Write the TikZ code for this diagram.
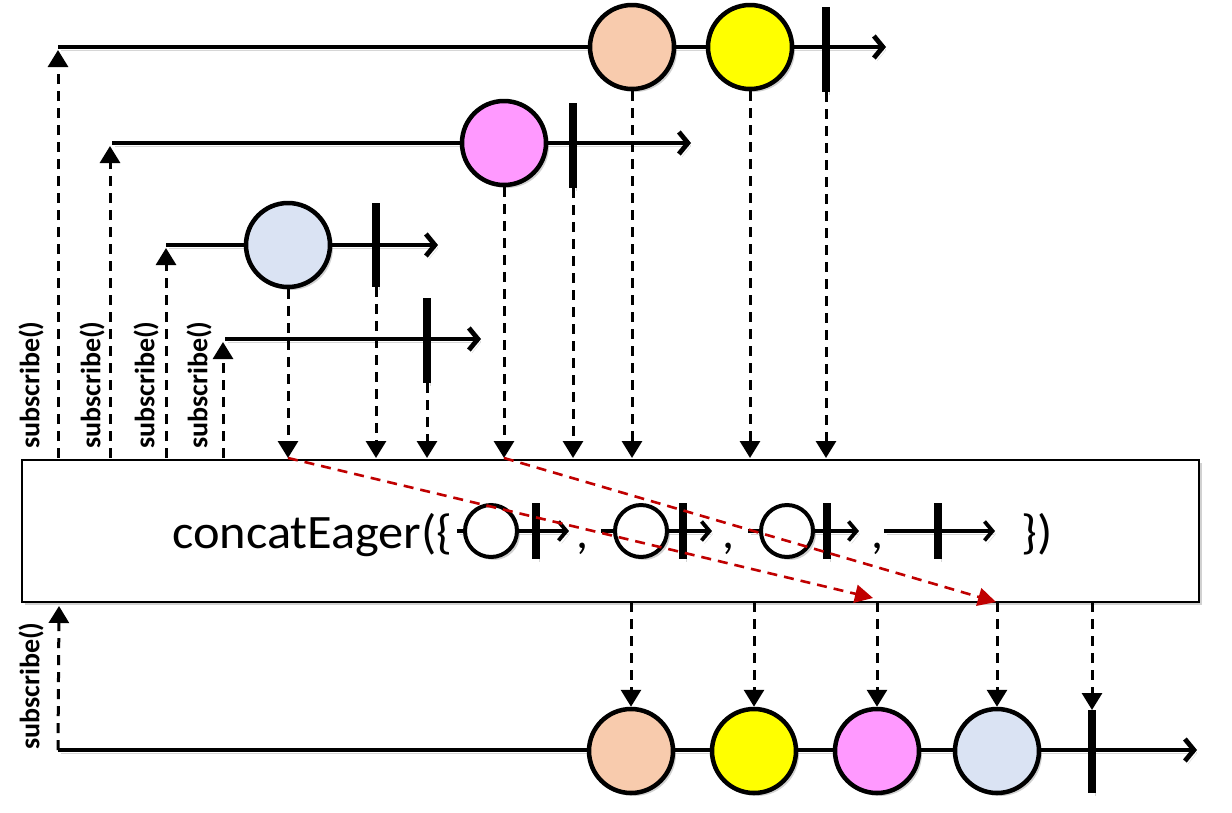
\documentclass[tikz,border=0pt]{standalone}
\usepackage{fontspec}
\setmainfont{Carlito}
\usetikzlibrary{arrows.meta,shadows}
\definecolor{peach}{HTML}{F8CBAD}
\definecolor{yel}{HTML}{FFFF00}
\definecolor{pinkm}{HTML}{FF99FF}
\definecolor{bluem}{HTML}{DAE3F3}
\definecolor{redd}{HTML}{C00000}
\begin{document}
\begin{tikzpicture}[x=1pt,y=-1pt,
  shd/.style={preaction={draw=black,opacity=0.16,transform canvas={shift={(3pt,-3pt)}}}},
  tl/.style={shd,line width=4.8pt,-{Straight Barb[length=9pt,width=22pt]}},
  mtl/.style={shd,line width=3.8pt,-{Straight Barb[length=8pt,width=19pt]}},
  marble/.style={circle,draw,line width=4.5pt,minimum size=84pt,inner sep=0pt,
    drop shadow={opacity=0.18,shadow xshift=3pt,shadow yshift=-3pt,fill=black}},
  mini/.style={circle,draw,fill=white,line width=4pt,minimum size=52pt,inner sep=0pt,
    drop shadow={opacity=0.18,shadow xshift=3pt,shadow yshift=-3pt,fill=black}},
  endbar/.style={shd,line width=8pt},
  minibar/.style={shd,line width=8pt},
  dsh/.style={line width=3pt,dash pattern=on 10pt off 7pt,-{Triangle[length=17pt,width=20pt]}},
  rdsh/.style={draw=redd,line width=2.6pt,dash pattern=on 10pt off 7pt,-{Triangle[length=18pt,width=18pt,fill=redd]}},
  sublbl/.style={rotate=90,anchor=west,font=\bfseries\fontsize{28}{28}\selectfont,inner sep=0pt},
  bigtxt/.style={font=\fontsize{48}{48}\selectfont,inner sep=0pt,anchor=base west}
]
\useasboundingbox (0,0) rectangle (1232,812);

% operator box
\node[draw,fill=white,line width=2pt,minimum width=1177pt,minimum height=142pt,anchor=north west,inner sep=0pt,
  drop shadow={opacity=0.18,shadow xshift=3pt,shadow yshift=-3pt,fill=black}] (box) at (21,459) {};

% box edge points
\foreach \x in {58,110,166,223,288,376,427,504,573,632,750,826} {\coordinate (t\x) at (\x,458);}
\foreach \x in {631,754,877,997,1092} {\coordinate (b\x) at (\x,602);}
\coordinate (b59) at (59,606);

% source timelines
\coordinate (s1) at (58,47);   \coordinate (e1) at (886,47);
\coordinate (s2) at (112,143); \coordinate (e2) at (691,143);
\coordinate (s3) at (166,245); \coordinate (e3) at (438,245);
\coordinate (s4) at (225,339); \coordinate (e4) at (481,339);
\draw[tl] (s1) -- (e1);
\draw[tl] (s2) -- (e2);
\draw[tl] (s3) -- (e3);
\draw[tl] (s4) -- (e4);

\node[marble,fill=peach] (m1a) at (632,47) {};
\node[marble,fill=yel] (m1b) at (750,47) {};
\coordinate (c1t) at (826,7); \coordinate (c1b) at (826,92);
\draw[endbar] (c1t) -- (c1b);

\node[marble,fill=pinkm] (m2a) at (504,143) {};
\coordinate (c2t) at (573,103); \coordinate (c2b) at (573,188);
\draw[endbar] (c2t) -- (c2b);

\node[marble,fill=bluem] (m3a) at (288,245) {};
\coordinate (c3t) at (376,203); \coordinate (c3b) at (376,287);
\draw[endbar] (c3t) -- (c3b);

\coordinate (c4t) at (427,298); \coordinate (c4b) at (427,383);
\draw[endbar] (c4t) -- (c4b);

% subscribe arrows (top)
\coordinate (u1) at (58,50);
\coordinate (u2) at (110,146);
\coordinate (u3) at (166,248);
\coordinate (u4) at (223,342);
\draw[dsh] (t58) -- (u1);
\draw[dsh] (t110) -- (u2);
\draw[dsh] (t166) -- (u3);
\draw[dsh] (t223) -- (u4);
\node[sublbl] (l1) at (31,449) {subscribe()};
\node[sublbl] (l2) at (92,449) {subscribe()};
\node[sublbl] (l3) at (146,449) {subscribe()};
\node[sublbl] (l4) at (199,449) {subscribe()};

% emissions into box
\draw[dsh] (m3a.south) -- (t288);
\draw[dsh] (c3b) -- (t376);
\draw[dsh] (c4b) -- (t427);
\draw[dsh] (m2a.south) -- (t504);
\draw[dsh] (c2b) -- (t573);
\draw[dsh] (m1a.south) -- (t632);
\draw[dsh] (m1b.south) -- (t750);
\draw[dsh] (c1b) -- (t826);

% box label
\node[bigtxt] (op1) at (172,548) {\scalebox{1.05}[1]{concatEager(\{}};
\foreach \s/\c/\b/\e [count=\i] in {457/491/536/569, 601/641/683/712, 748/787/827/859} {
  \coordinate (ms\i) at (\s,531); \coordinate (me\i) at (\e,531);
  \draw[mtl] (ms\i) -- (me\i);
  \node[mini] (mc\i) at (\c,531) {};
  \coordinate (mbt\i) at (\b,503); \coordinate (mbb\i) at (\b,559);
  \draw[minibar] (mbt\i) -- (mbb\i);
}
\coordinate (ms4) at (884,531); \coordinate (me4) at (995,531);
\draw[mtl] (ms4) -- (me4);
\coordinate (mbt4) at (938,503); \coordinate (mbb4) at (938,559);
\draw[minibar] (mbt4) -- (mbb4);
\node[bigtxt] (cm1) at (576,548) {,};
\node[bigtxt] (cm2) at (722,548) {,};
\node[bigtxt] (cm3) at (871,548) {,};
\node[bigtxt] (op2) at (1021,548) {\scalebox{1.05}[1]{\})}};

% red reorder arrows
\coordinate (r1e) at (873,598);
\coordinate (r2e) at (996,602);
\draw[rdsh] (t288) -- (r1e);
\draw[rdsh] (t504) -- (r2e);

% output timeline
\coordinate (so) at (58,750); \coordinate (eo) at (1197,750);
\draw[tl] (so) -- (eo);
\node[marble,fill=peach] (o1) at (631,751) {};
\node[marble,fill=yel] (o2) at (754,751) {};
\node[marble,fill=pinkm] (o3) at (877,751) {};
\node[marble,fill=bluem] (o4) at (997,751) {};
\coordinate (cot) at (1092,710); \coordinate (cob) at (1092,793);
\draw[endbar] (cot) -- (cob);

\draw[dsh] (b631) -- (o1.north);
\draw[dsh] (b754) -- (o2.north);
\draw[dsh] (b877) -- (o3.north);
\draw[dsh] (b997) -- (o4.north);
\draw[dsh] (b1092) -- (cot);

\draw[dsh] (so) -- (b59);
\node[sublbl] (l5) at (31,750) {subscribe()};
\end{tikzpicture}
\end{document}
